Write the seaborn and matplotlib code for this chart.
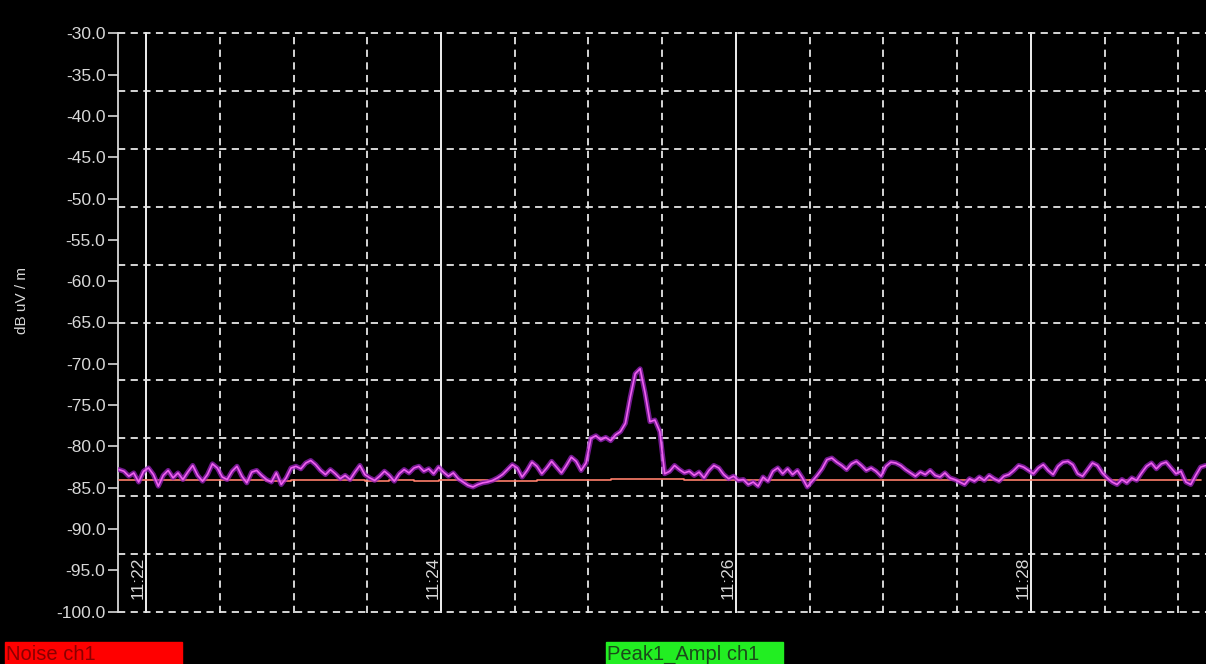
import numpy as np
import pandas as pd
import matplotlib
matplotlib.use("Agg")
import matplotlib.pyplot as plt
import matplotlib.dates as mdates
from matplotlib.ticker import FixedLocator
import seaborn as sns

# ---------------- data ----------------
peak_start = "2024-01-01 11:21:49"
peak_step = "2s"
peak_ampl = [
    -82.8, -83.0, -83.6, -83.2, -84.3, -83.0, -82.6, -83.4, -84.8, -83.5,
    -82.9, -83.8, -83.2, -84.0, -83.1, -82.3, -83.5, -84.2, -83.4, -82.1,
    -82.6, -83.7, -84.0, -83.0, -82.4, -83.6, -84.4, -83.1, -82.9, -83.5,
    -84.0, -84.3, -83.2, -84.6, -83.8, -82.6, -82.4, -82.7,
    -82.0, -81.7, -82.2, -82.9, -83.4, -82.8, -83.3, -83.9, -83.5, -84.0,
    -83.1, -82.3, -83.4, -83.8, -84.1, -83.6, -83.0, -83.5, -84.2, -83.3,
    -82.8, -83.2, -82.6, -82.4, -83.0, -82.7, -83.3, -82.5, -83.1, -83.6,
    -83.2, -83.9, -84.3, -84.7, -84.9, -84.6, -84.4,
    -84.3, -84.1, -83.8, -83.4, -82.8, -82.2, -82.6, -83.7, -82.9, -81.9,
    -82.4, -83.3, -82.6, -81.8, -82.5, -83.2, -82.3, -81.3, -81.8, -82.9,
    -82.0, -79.0, -78.7, -79.2, -78.9, -79.3, -78.6, -78.2, -77.2, -74.0,
    -71.2, -70.6, -73.5, -77.0, -76.8, -78.2, -83.3,
    -83.0, -82.3, -82.8, -83.2, -83.0, -83.5, -83.1, -83.8, -82.9, -82.3,
    -82.6, -83.4, -83.9, -83.6, -84.1, -84.0, -84.6, -84.3, -84.8, -83.7,
    -84.2, -83.0, -82.6, -83.3, -82.7, -83.4, -82.9, -83.8, -84.9, -84.2,
    -83.5, -82.7, -81.6, -81.4, -81.9, -82.3,
    -82.8, -82.1, -81.8, -82.3, -82.9, -82.6, -83.0, -83.6, -82.4, -81.9,
    -82.0, -82.3, -82.8, -83.2, -83.6, -83.1, -83.4, -82.9, -83.5, -83.7,
    -83.2, -83.8, -84.0, -84.3, -84.6, -83.9, -84.2, -83.7, -84.1, -83.5,
    -83.9, -84.2, -83.6, -83.4, -82.9, -82.3, -82.5,
    -82.9, -83.3, -82.6, -82.2, -82.9, -83.4, -82.4, -81.9, -81.8, -82.2,
    -83.3, -83.6, -82.8, -82.0, -82.3, -83.2, -83.8, -84.3, -84.6, -84.0,
    -84.4, -83.8, -84.1, -83.2, -82.4, -82.0, -82.7, -82.1, -81.9, -82.6,
    -83.3, -83.0, -84.3, -84.6, -83.5, -82.5, -82.3,
]

noise_start = "2024-01-01 11:21:49"
noise_step = "10s"
noise_ch1 = [
    -84.1, -84.0, -84.1, -84.1, -84.0, -84.1, -84.2, -84.1, -84.0, -84.1,
    -84.2, -84.1, -84.2, -84.1, -84.1, -84.2, -84.2, -84.1, -84.0, -84.1,
    -83.9, -83.9, -83.9, -84.0, -84.1, -84.1, -84.0, -84.1, -84.1, -84.0,
    -84.0, -84.1, -84.0, -84.1, -84.1, -84.0, -84.1, -84.0, -84.1, -84.0,
    -84.1, -84.0, -84.1, -84.0, -84.0,
]

y_ticks = [-30, -35, -40, -45, -50, -55, -60, -65, -70, -75, -80, -85, -90, -95, -100]
y_grid = [-30, -37, -44, -51, -58, -65, -72, -79, -86, -93, -100]
x_labels = ["11:22", "11:24", "11:26", "11:28"]
y_label = "dB uV / m"
legend_noise = "Noise ch1"
legend_peak = "Peak1_Ampl ch1"

# ---------------- frames ----------------
peak_df = pd.DataFrame({
    "time": pd.date_range(peak_start, periods=len(peak_ampl), freq=peak_step),
    "value": peak_ampl,
})
noise_df = pd.DataFrame({
    "time": pd.date_range(noise_start, periods=len(noise_ch1), freq=noise_step),
    "value": noise_ch1,
})

# ---------------- style ----------------
sns.set_theme(style="dark", rc={
    "figure.facecolor": "black",
    "axes.facecolor": "black",
    "axes.edgecolor": "#d8d8d8",
    "text.color": "#d8d8d8",
    "xtick.color": "#d8d8d8",
    "ytick.color": "#d8d8d8",
})
plt.rcParams["font.family"] = ["Liberation Sans", "DejaVu Sans"]

fig = plt.figure(figsize=(12.06, 6.64), dpi=100)
ax = fig.add_axes([118 / 1206, 1 - 613 / 664, 1 - 118 / 1206, (613 - 32) / 664])
ax.set_facecolor("black")

# grid
grid_col = "#e6e6e6"
ax.xaxis.set_major_locator(mdates.MinuteLocator(byminute=range(0, 60, 2)))
ax.xaxis.set_minor_locator(mdates.SecondLocator(bysecond=[0, 30]))
ax.yaxis.set_major_locator(FixedLocator(y_ticks))
ax.yaxis.set_minor_locator(FixedLocator(y_grid))
ax.yaxis.remove_overlapping_locs = False
ax.grid(False)
ax.grid(which="minor", axis="both", color=grid_col, linestyle=(0, (4, 3)), linewidth=1.3)
ax.grid(which="major", axis="x", color="#f0f0f0", linestyle="-", linewidth=1.4)
ax.set_axisbelow(True)

# series
sns.lineplot(data=noise_df, x="time", y="value", ax=ax, color="#ff7f6a",
             linewidth=1.2, drawstyle="steps-post", legend=False, zorder=3)
sns.lineplot(data=peak_df, x="time", y="value", ax=ax, color="#9a22c0",
             linewidth=3.6, alpha=0.75, legend=False, zorder=4)
sns.lineplot(data=peak_df, x="time", y="value", ax=ax, color="#f060f0",
             linewidth=1.2, legend=False, zorder=5)

# limits
x0 = pd.Timestamp("2024-01-01 11:21:48.6")
x1 = pd.Timestamp("2024-01-01 11:29:11.2")
ax.set_xlim(x0, x1)
ax.set_ylim(-100.15, -29.85)

# spines
for s in ["top", "right", "bottom"]:
    ax.spines[s].set_visible(False)
ax.spines["left"].set_color("#d8d8d8")
ax.spines["left"].set_linewidth(1.3)
ax.spines["left"].set_bounds(-100, -30)

# ticks
ax.set_yticklabels([f"{v:.1f}" for v in y_ticks])
ax.tick_params(axis="y", which="major", length=7, width=1.2, color="#d8d8d8",
               labelsize=12.5, labelcolor="#d8d8d8", pad=2, left=True)
ax.tick_params(axis="y", which="minor", length=0)
ax.tick_params(axis="x", which="both", length=0, labelbottom=False)
ax.set_xlabel("")
ax.set_ylabel("")

# rotated time labels inside plot
for lab in x_labels:
    t = mdates.date2num(pd.Timestamp("2024-01-01 " + lab))
    ax.text(t, -98.4, lab, rotation=90, ha="right", va="bottom",
            fontsize=12.5, color="#d8d8d8", transform=ax.transData)

# y label
fig.text(22 / 1206, 1 - 300 / 664, y_label, rotation=90, ha="center", va="center",
         fontsize=11, color="#d8d8d8")

# legend boxes at bottom
fig.patches.append(plt.Rectangle((5 / 1206, 0), 177 / 1206, 22 / 664,
                                 transform=fig.transFigure, color="#ff0000", zorder=1))
fig.text(6 / 1206, 10 / 664, legend_noise, ha="left", va="center",
         fontsize=14.5, color="#8a0000")
fig.patches.append(plt.Rectangle((606 / 1206, 0), 177 / 1206, 22 / 664,
                                 transform=fig.transFigure, color="#22ee22", zorder=1))
fig.text(607 / 1206, 10 / 664, legend_peak, ha="left", va="center",
         fontsize=14.5, color="#1a4a1a")

fig.savefig("out.png", dpi=100, facecolor="black")
